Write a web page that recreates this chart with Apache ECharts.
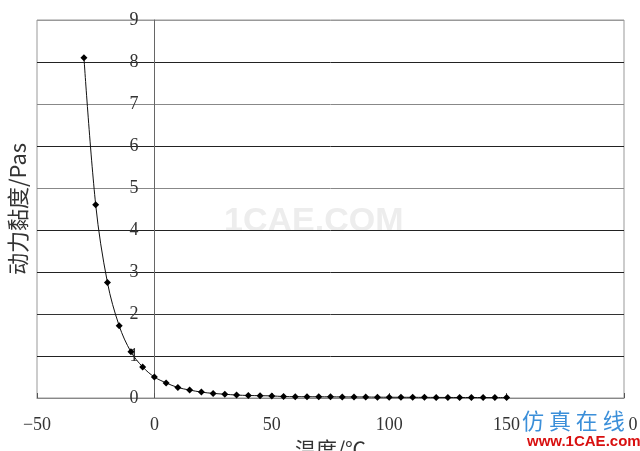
<!DOCTYPE html>
<html>
<head>
<meta charset="utf-8">
<script src="https://cdn.jsdelivr.net/npm/echarts@6/dist/echarts.min.js"></script>
<style>html,body{margin:0;padding:0;background:#fff}#c{width:640px;height:451px}</style>
</head>
<body>
<div id="c"></div>
<script>
var temperatures = [-30,-25,-20,-15,-10,-5,0,5,10,15,20,25,30,35,40,45,50,55,60,65,70,75,80,85,90,95,100,105,110,115,120,125,130,135,140,145,150];
var viscosity = [8.1,4.6,2.75,1.72,1.1,0.74,0.5,0.36,0.25,0.19,0.14,0.11,0.09,0.07,0.06,0.055,0.05,0.035,0.032,0.03,0.029,0.028,0.026,0.025,0.024,0.02,0.018,0.017,0.016,0.015,0.014,0.013,0.012,0.012,0.011,0.011,0.01];
var xTitle = '温度/℃';
var yTitle = '动力黏度/Pas';
var gridColors = ['#888','#222','#333','#222','#222','#888','#222','#888','#222','#999'];

var pts = temperatures.map(function(t,i){return [t, viscosity[i]];});
var GL = 37;
var chart = echarts.init(document.getElementById('c'));
var opt = {
  animation:false,
  backgroundColor:'#fff',
  grid:{left:GL,right:16,top:20,bottom:53,show:true,borderColor:'#999',borderWidth:1,containLabel:false,outerBoundsMode:'none'},
  xAxis:{type:'value',min:-50,max:200,interval:50,
    name:xTitle,nameLocation:'middle',nameGap:40,
    nameTextStyle:{fontFamily:'Noto Sans CJK SC',fontSize:21,color:'#333'},
    axisLine:{onZero:true,lineStyle:{color:'#888',width:1}},
    axisTick:{show:true,inside:true,length:5,lineStyle:{color:'#555'}},
    splitLine:{show:false},
    axisLabel:{fontFamily:'Liberation Serif',fontSize:18,color:'#333',margin:18,
      formatter:function(v){return String(v).replace('-','\u2212');}}
  },
  yAxis:{type:'value',min:0,max:9,interval:1,position:'left',offset:0,
    name:yTitle,nameLocation:'middle',nameGap:126,nameRotate:90,
    nameTextStyle:{fontFamily:'Noto Sans CJK SC',fontSize:22,color:'#333'},
    axisLine:{onZero:false,lineStyle:{color:'#666',width:1}},
    axisTick:{show:false},
    splitLine:{show:true,lineStyle:{color:gridColors,width:1}},
    axisLabel:{fontFamily:'Liberation Serif',fontSize:18,color:'#333',margin:16,
      verticalAlign:'middle',padding:[6,0,0,0]}
  },
  graphic:[
    {type:'text',left:224,top:205,z:-1,style:{text:'1CAE.COM',font:'bold 34px Arial',fill:'#ededed'}},
    {type:'text',left:522,top:410,z:100,style:{text:'仿 真 在 线',font:'22px "Noto Sans CJK SC"',fill:'#3b8fd9',backgroundColor:'#fff',padding:[0,4,0,0]}},
    {type:'text',left:527,top:434,z:100,style:{text:'www.1CAE.com',font:'bold 15px "Liberation Sans"',fill:'#d81010'}}
  ],
  series:[{
    type:'line',data:pts,smooth:0.35,
    symbol:'diamond',symbolSize:7,showSymbol:true,
    lineStyle:{color:'#111',width:1},
    itemStyle:{color:'#000'}
  }]
};
chart.setOption(opt);
// move the y axis (line + labels) to x = 0, as in the reference
var zeroX = chart.convertToPixel({xAxisIndex:0}, 0);
var off = -(zeroX - GL);
chart.setOption({yAxis:{offset:off}});
</script>
</body>
</html>
